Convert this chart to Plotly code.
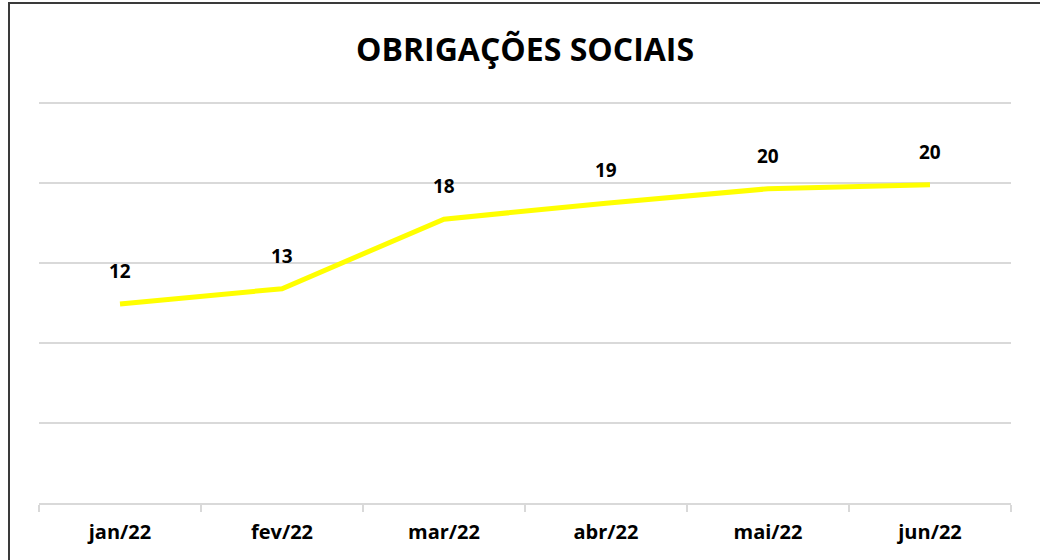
import plotly.graph_objects as go

categories = ["jan/22", "fev/22", "mar/22", "abr/22", "mai/22", "jun/22"]
values = [12.45, 13.4, 17.75, 18.75, 19.65, 19.9]
title_text = "OBRIGAÇÕES SOCIAIS"

FONT = "Open Sans"
L, R, T, B = 39, 29, 100, 57
W, H = 1040, 560
pw, ph = W - L - R, H - T - B

fig = go.Figure()
fig.add_trace(go.Scatter(
    x=categories, y=values, mode="lines",
    line=dict(color="#FFFF00", width=5),
    hoverinfo="skip", showlegend=False,
))
for c, v in zip(categories, values):
    fig.add_annotation(
        x=c, y=v, text=f"<b>{v:.0f}</b>", showarrow=False,
        yshift=33, font=dict(family=FONT, size=19, color="#000000"),
    )

# outer chart border
fig.add_shape(
    type="rect", xref="paper", yref="paper",
    x0=(9 - L) / pw, x1=(W + 20 - L) / pw,
    y0=-(B + 20) / ph, y1=(H - B - 3) / ph,
    line=dict(color="#3a3a3a", width=2), fillcolor="rgba(0,0,0,0)", layer="above",
)

fig.update_layout(
    width=W, height=H,
    margin=dict(l=L, r=R, t=T, b=B),
    paper_bgcolor="white", plot_bgcolor="white",
    title=dict(text=f"<b>{title_text}</b>", x=(L + pw / 2) / W, xanchor="center",
               y=1 - 50 / H, yanchor="middle",
               font=dict(family=FONT, size=32, color="#000000")),
    xaxis=dict(
        type="category", range=[-0.5, len(categories) - 0.5],
        tickson="boundaries", ticks="outside", ticklen=7,
        tickcolor="#d9d9d9", tickwidth=2, showline=True, linecolor="#d9d9d9", linewidth=2,
        showgrid=False, zeroline=False, ticklabelstandoff=10,
        tickfont=dict(family=FONT, size=20, color="#000000"),
        tickprefix="<b>", ticksuffix="</b>",
    ),
    yaxis=dict(
        range=[0, 25.2], dtick=5, showticklabels=False, showgrid=True,
        gridcolor="#d9d9d9", gridwidth=2, zeroline=False, showline=False,
    ),
)

fig.write_html("out.html", config={"displayModeBar": False},
               post_script="document.body.style.margin='0';")
